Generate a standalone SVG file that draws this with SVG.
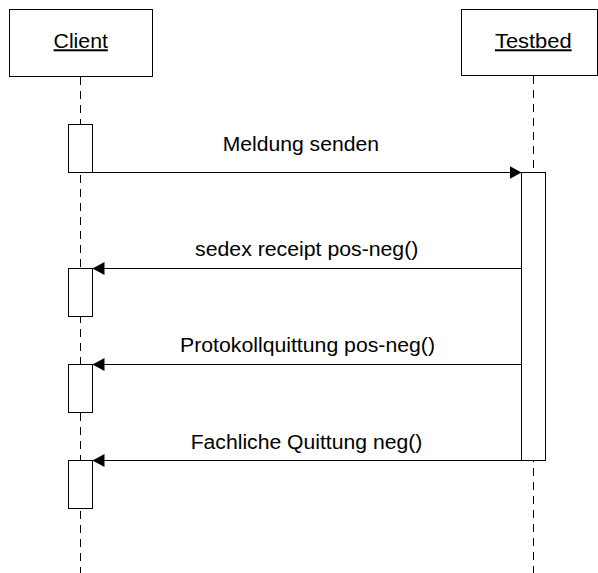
<svg xmlns="http://www.w3.org/2000/svg" width="598" height="573" viewBox="0 0 598 573">
  <style>
    .box { fill: #ffffff; stroke: #000000; stroke-width: 1; }
    .life { stroke: #000000; stroke-width: 1; stroke-dasharray: 8 6; fill: none; }
    .msg { stroke: #000000; stroke-width: 1; fill: none; marker-end: url(#arrow); }
    .lbl { font-family: "Liberation Sans", Arial, sans-serif; font-size: 20px; fill: #000000; text-anchor: middle; }
    .title { text-decoration: underline; }
  </style>
  <defs>
    <marker id="arrow" markerUnits="userSpaceOnUse" markerWidth="13" markerHeight="14" refX="12" refY="6.5" orient="auto">
      <path d="M0,0 L12,6.5 L0,13 Z" fill="#000000"/>
    </marker>
  </defs>
  <rect width="598" height="573" fill="#ffffff"/>

  <g id="client">
    <line class="life" x1="80.5" y1="77" x2="80.5" y2="573"/>
    <rect class="box" x="9.5" y="9.5" width="143" height="67"/>
    <text class="lbl title" x="80.7" y="48.3" textLength="54.3" lengthAdjust="spacingAndGlyphs">Client</text>
    <rect class="box" x="68.5" y="124.5" width="24" height="48"/>
    <rect class="box" x="68.5" y="268.5" width="24" height="48"/>
    <rect class="box" x="68.5" y="364.5" width="24" height="48"/>
    <rect class="box" x="68.5" y="460.5" width="24" height="48"/>
  </g>

  <g id="testbed">
    <line class="life" x1="533.5" y1="76" x2="533.5" y2="573"/>
    <rect class="box" x="461.5" y="9.5" width="136" height="66"/>
    <text class="lbl title" x="533.3" y="48.3" textLength="76.7" lengthAdjust="spacingAndGlyphs">Testbed</text>
    <rect class="box" x="521.5" y="172.5" width="24" height="288"/>
  </g>

  <g id="connectors">
    <line class="msg" x1="92.5" y1="172.5" x2="521.5" y2="172.5"/>
    <line class="msg" x1="521.5" y1="268.5" x2="92.5" y2="268.5"/>
    <line class="msg" x1="521.5" y1="364.5" x2="92.5" y2="364.5"/>
    <line class="msg" x1="521.5" y1="460.5" x2="92.5" y2="460.5"/>
    <text class="lbl" x="300.8" y="151" textLength="156.3" lengthAdjust="spacingAndGlyphs">Meldung senden</text>
    <text class="lbl" x="306.7" y="256" textLength="223.3" lengthAdjust="spacingAndGlyphs">sedex receipt pos-neg()</text>
    <text class="lbl" x="307.5" y="352" textLength="255" lengthAdjust="spacingAndGlyphs">Protokollquittung pos-neg()</text>
    <text class="lbl" x="306.5" y="449" textLength="231.6" lengthAdjust="spacingAndGlyphs">Fachliche Quittung neg()</text>
  </g>
</svg>
